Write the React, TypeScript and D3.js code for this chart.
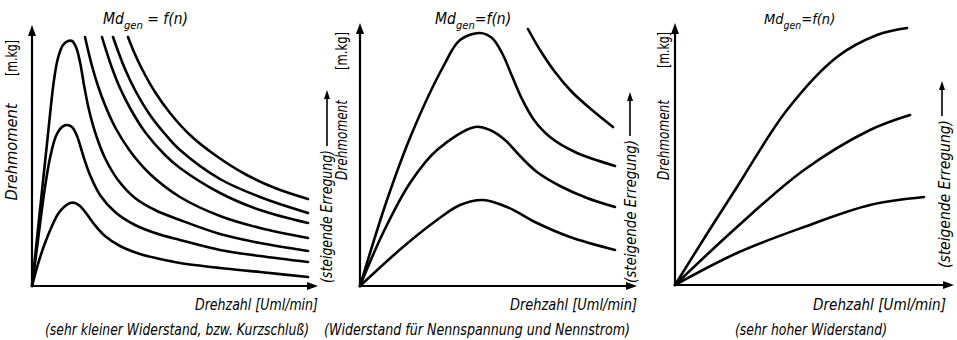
import React from "react";
import * as d3 from "d3";

type Pt = [number, number];

// ---------- DATA (n in Uml/min-like units, M in m·kg-like units) ----------
// Panel 1: sehr kleiner Widerstand, bzw. Kurzschluß
const p1PeakHigh: Pt[] = [[0,0],[80,7.6],[160,15.2],[220,20.6],[260,22.8],[310,24.1],[360,24.5],[400,24.5],[440,23.9],[480,22.4],[520,20.1],[570,17.6],[640,15.1],[730,12.8],[860,10.6],[1030,8.8],[1230,7.6],[1480,6.6],[1880,5.2],[2280,4.3],[2760,3.5]];
const p1PeakMid: Pt[] = [[0,0],[60,4.6],[120,9.2],[180,12.8],[240,15.0],[300,15.9],[350,16.1],[400,15.9],[450,15.0],[510,13.1],[580,11.1],[680,9.1],[830,7.4],[1030,6.1],[1230,5.3],[1480,4.6],[1880,3.6],[2280,3.0],[2760,2.4]];
const p1PeakLow: Pt[] = [[0,0],[60,2.2],[130,4.3],[200,6.0],[260,7.2],[320,7.9],[380,8.3],[430,8.3],[480,8.0],[540,7.3],[620,6.2],[730,5.0],[880,4.0],[1080,3.2],[1280,2.7],[1480,2.3],[1880,1.8],[2280,1.4],[2760,0.9]];
const p1Hyp1: Pt[] = [[530,24.9],[560,23.6],[600,22.0],[660,20.0],[730,18.1],[830,15.9],[980,13.5],[1180,11.2],[1480,8.9],[1880,7.0],[2280,5.8],[2760,4.8]];
const p1Hyp2: Pt[] = [[700,24.9],[740,23.6],[800,21.8],[880,19.8],[980,17.8],[1130,15.4],[1330,13.1],[1480,11.8],[1880,9.3],[2280,7.6],[2760,6.3]];
const p1Hyp3: Pt[] = [[810,24.9],[860,23.5],[930,21.7],[1030,19.6],[1180,17.1],[1330,15.2],[1480,13.6],[1880,10.7],[2280,8.9],[2760,7.3]];
const p1Hyp4: Pt[] = [[960,24.9],[1020,23.4],[1100,21.7],[1230,19.4],[1380,17.3],[1580,15.1],[1830,13.1],[2130,11.2],[2430,9.8],[2760,8.7]];

// Panel 2: Widerstand für Nennspannung und Nennstrom
const p2PeakHigh: Pt[] = [[0,0],[270,8.6],[520,15.3],[830,21.9],[1000,24.6],[1200,25.3],[1320,24.8],[1420,23.3],[1520,21.0],[1620,18.7],[1740,16.6],[1900,14.9],[2150,13.4],[2550,12.0]];
const p2PeakMid: Pt[] = [[0,0],[230,5.3],[500,10.3],[770,13.6],[1150,15.9],[1300,15.6],[1450,14.6],[1600,13.0],[1770,11.4],[2000,10.0],[2270,8.8],[2550,7.9]];
const p2PeakLow: Pt[] = [[0,0],[430,3.9],[770,6.6],[1000,8.1],[1230,8.6],[1470,7.9],[1770,6.3],[2100,4.9],[2550,3.6]];
const p2Hyp: Pt[] = [[1680,25.7],[1800,23.6],[1950,21.4],[2120,19.4],[2320,17.6],[2530,15.9]];

// Panel 3: sehr hoher Widerstand
const p3High: Pt[] = [[0,0],[300,4.8],[620,9.8],[1120,17.5],[1620,22.8],[2020,25.0],[2320,25.7]];
const p3Mid: Pt[] = [[0,0],[620,5.8],[1290,11.5],[1950,15.5],[2350,17.0]];
const p3Low: Pt[] = [[0,0],[620,3.2],[1290,5.8],[1950,8.0],[2490,8.8]];

const titleMain = "Md";
const titleSub = "gen";
const xLabel = "Drehzahl [Uml/min]";
const yLabel = "Drehmoment";
const yUnit = "[m.kg]";
const excitation = "(steigende Erregung)";
const captions = [
  "(sehr kleiner Widerstand, bzw. Kurzschluß)",
  "(Widerstand für Nennspannung und Nennstrom)",
  "(sehr hoher Widerstand)",
];

// ---------- LAYOUT ----------
const FONT = "'DejaVu Sans Condensed', 'DejaVu Sans', sans-serif";

interface PanelCfg {
  ox: number; oy: number; xLen: number; yLen: number;
  curves: Pt[][];
  titleX: number; titleSize: number; titleEq: string;
  xlabX: number; xlabLen: number;
  capX: number; capLen: number;
  ylabX: number; ylabY: number; ylabLen: number; unitY: number; unitLen: number;
  excX: number; excY: number; excLen: number; arrX: number; arrTop: number; arrBot: number;
}

const panels: PanelCfg[] = [
  { ox: 32, oy: 286, xLen: 286, yLen: 261, curves: [p1PeakHigh, p1PeakMid, p1PeakLow, p1Hyp1, p1Hyp2, p1Hyp3, p1Hyp4],
    titleX: 103, titleSize: 15.5, titleEq: " = f(n)", xlabX: 195, xlabLen: 123, capX: 45, capLen: 264,
    ylabX: 17, ylabY: 152, ylabLen: 97, unitY: 58, unitLen: 36,
    excX: 332, excY: 283, excLen: 133, arrX: 327, arrTop: 90, arrBot: 146 },
  { ox: 360, oy: 286, xLen: 277, yLen: 263, curves: [p2PeakHigh, p2PeakMid, p2PeakLow, p2Hyp],
    titleX: 435, titleSize: 15.5, titleEq: "=f(n)", xlabX: 510, xlabLen: 127, capX: 324, capLen: 306,
    ylabX: 347, ylabY: 140, ylabLen: 80, unitY: 51, unitLen: 38,
    excX: 636, excY: 283, excLen: 143, arrX: 630, arrTop: 92, arrBot: 136 },
  { ox: 675, oy: 285, xLen: 279, yLen: 262, curves: [p3High, p3Mid, p3Low],
    titleX: 764, titleSize: 14.5, titleEq: "=f(n)", xlabX: 813, xlabLen: 133, capX: 735, capLen: 152,
    ylabX: 669, ylabY: 140, ylabLen: 80, unitY: 50, unitLen: 36,
    excX: 950, excY: 268, excLen: 148, arrX: 942, arrTop: 81, arrBot: 116 },
];

function ArrowLine({ x1, y1, x2, y2, w = 2, head = 10, half = 3.5 }: any) {
  const dx = x2 - x1, dy = y2 - y1;
  const L = Math.hypot(dx, dy);
  const ux = dx / L, uy = dy / L;
  const bx = x2 - ux * head, by = y2 - uy * head;
  const px = -uy * half, py = ux * half;
  return (
    <g>
      <line x1={x1} y1={y1} x2={bx + ux * 2} y2={by + uy * 2} stroke="#000" strokeWidth={w} />
      <polygon points={`${x2},${y2} ${bx + px},${by + py} ${bx - px},${by - py}`} fill="#000" />
    </g>
  );
}

function Panel({ cfg, idx }: { cfg: PanelCfg; idx: number }) {
  const x = d3.scaleLinear().domain([0, cfg.xLen * 10]).range([cfg.ox, cfg.ox + cfg.xLen]);
  const y = d3.scaleLinear().domain([0, cfg.yLen / 10]).range([cfg.oy, cfg.oy - cfg.yLen]);
  const line = d3.line<Pt>().x((d) => x(d[0])).y((d) => y(d[1])).curve(d3.curveCatmullRom.alpha(0.5));
  const textStyle: any = { fontFamily: FONT, fontStretch: "condensed", fontStyle: "italic", fontSize: 16, fill: "#000" };
  return (
    <g>
      {cfg.curves.map((c, i) => (
        <path key={i} d={line(c) || ""} fill="none" stroke="#000" strokeWidth={2.6} strokeLinejoin="round" strokeLinecap="round" />
      ))}
      <ArrowLine x1={x(0)} y1={y(0)} x2={x(cfg.xLen * 10)} y2={y(0)} w={2.2} head={11} half={4} />
      <ArrowLine x1={x(0)} y1={y(0)} x2={x(0)} y2={y(cfg.yLen / 10)} w={2.2} head={11} half={4} />
      <text x={cfg.titleX} y={24} style={{ ...textStyle, fontSize: cfg.titleSize }}>
        {titleMain}
        <tspan dy={5} fontSize={cfg.titleSize * 0.72}>{titleSub}</tspan>
        <tspan dy={-5}>{cfg.titleEq}</tspan>
      </text>
      <text x={cfg.xlabX} y={310} style={{ ...textStyle, fontSize: 15 }} textLength={cfg.xlabLen} lengthAdjust="spacingAndGlyphs">{xLabel}</text>
      <text transform={`translate(${cfg.ylabX},${cfg.ylabY}) rotate(-90)`} textAnchor="middle" style={textStyle}
        textLength={cfg.ylabLen} lengthAdjust="spacingAndGlyphs">{yLabel}</text>
      <text transform={`translate(${cfg.ylabX},${cfg.unitY}) rotate(-90)`} textAnchor="middle" style={{ ...textStyle, fontStyle: "normal" }}
        textLength={cfg.unitLen} lengthAdjust="spacingAndGlyphs">{yUnit}</text>
      <text transform={`translate(${cfg.excX},${cfg.excY}) rotate(-90)`} style={textStyle}
        textLength={cfg.excLen} lengthAdjust="spacingAndGlyphs">{excitation}</text>
      <ArrowLine x1={cfg.arrX} y1={cfg.arrBot} x2={cfg.arrX} y2={cfg.arrTop} w={1.6} head={9} half={3} />
      <text x={cfg.capX} y={335} style={{ ...textStyle, fontSize: 15 }} textLength={cfg.capLen} lengthAdjust="spacingAndGlyphs">{captions[idx]}</text>
    </g>
  );
}

export default function App() {
  return (
    <svg width={957} height={340} style={{ position: "absolute", left: 0, top: 0, background: "#fff" }}>
      <rect width={957} height={340} fill="#fff" />
      {panels.map((p, i) => <Panel key={i} cfg={p} idx={i} />)}
    </svg>
  );
}
